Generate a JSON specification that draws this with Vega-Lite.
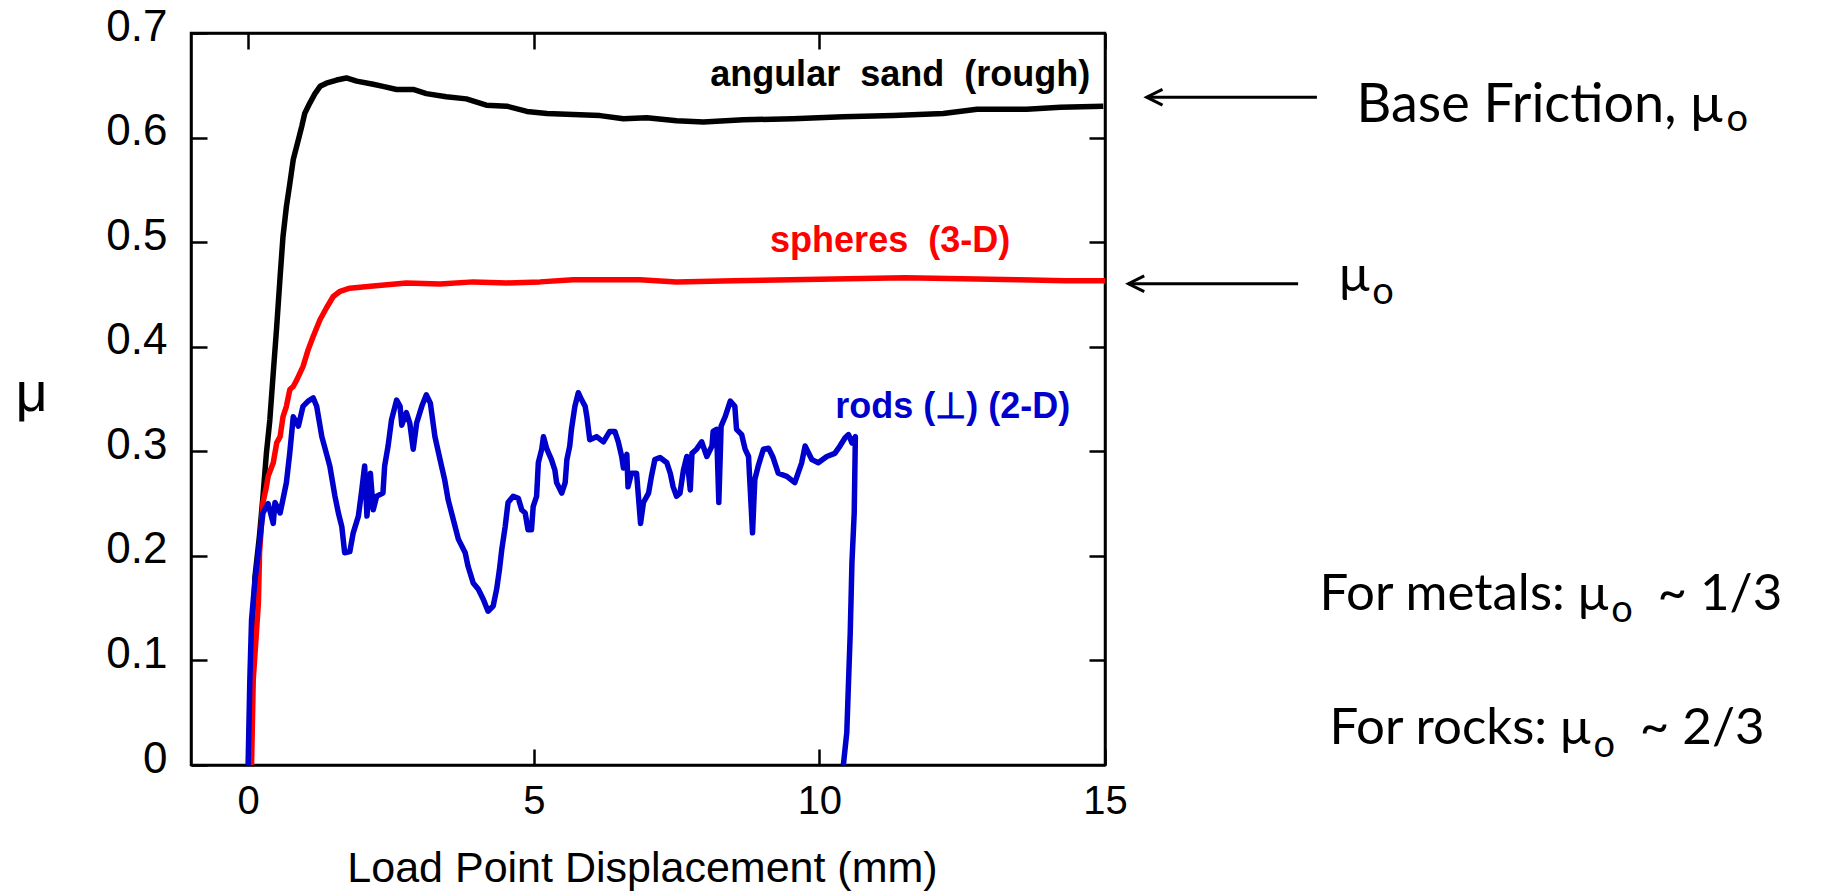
{
  "$schema": "https://vega.github.io/schema/vega-lite/v6.json",
  "width": 914,
  "height": 732,
  "autosize": {"type": "none"},
  "padding": {"left": 191, "top": 33, "right": 716, "bottom": 129},
  "background": "white",
  "config": {
    "view": {"stroke": "black", "strokeWidth": 2.5},
    "font": "Liberation Sans"
  },
  "datasets": {
    "curves": [
      {"series":"sand","i":0,"x":0.04,"mu":0},
      {"series":"sand","i":1,"x":0.08,"mu":0.12},
      {"series":"sand","i":2,"x":0.12,"mu":0.18},
      {"series":"sand","i":3,"x":0.2,"mu":0.22},
      {"series":"sand","i":4,"x":0.26,"mu":0.257},
      {"series":"sand","i":5,"x":0.32,"mu":0.298},
      {"series":"sand","i":6,"x":0.38,"mu":0.33},
      {"series":"sand","i":7,"x":0.44,"mu":0.375},
      {"series":"sand","i":8,"x":0.5,"mu":0.419},
      {"series":"sand","i":9,"x":0.56,"mu":0.467},
      {"series":"sand","i":10,"x":0.61,"mu":0.505},
      {"series":"sand","i":11,"x":0.67,"mu":0.534},
      {"series":"sand","i":12,"x":0.73,"mu":0.556},
      {"series":"sand","i":13,"x":0.79,"mu":0.579},
      {"series":"sand","i":14,"x":0.88,"mu":0.598},
      {"series":"sand","i":15,"x":0.94,"mu":0.611},
      {"series":"sand","i":16,"x":0.99,"mu":0.623},
      {"series":"sand","i":17,"x":1.08,"mu":0.633},
      {"series":"sand","i":18,"x":1.17,"mu":0.642},
      {"series":"sand","i":19,"x":1.26,"mu":0.649},
      {"series":"sand","i":20,"x":1.37,"mu":0.652},
      {"series":"sand","i":21,"x":1.55,"mu":0.655},
      {"series":"sand","i":22,"x":1.72,"mu":0.657},
      {"series":"sand","i":23,"x":1.9,"mu":0.654},
      {"series":"sand","i":24,"x":2.19,"mu":0.651},
      {"series":"sand","i":25,"x":2.36,"mu":0.649},
      {"series":"sand","i":26,"x":2.6,"mu":0.646},
      {"series":"sand","i":27,"x":2.89,"mu":0.646},
      {"series":"sand","i":28,"x":3.12,"mu":0.642},
      {"series":"sand","i":29,"x":3.47,"mu":0.639},
      {"series":"sand","i":30,"x":3.82,"mu":0.637},
      {"series":"sand","i":31,"x":4.17,"mu":0.631},
      {"series":"sand","i":32,"x":4.53,"mu":0.63},
      {"series":"sand","i":33,"x":4.88,"mu":0.625},
      {"series":"sand","i":34,"x":5.23,"mu":0.623},
      {"series":"sand","i":35,"x":5.69,"mu":0.622},
      {"series":"sand","i":36,"x":6.16,"mu":0.621},
      {"series":"sand","i":37,"x":6.57,"mu":0.618},
      {"series":"sand","i":38,"x":6.98,"mu":0.619},
      {"series":"sand","i":39,"x":7.5,"mu":0.616},
      {"series":"sand","i":40,"x":7.97,"mu":0.615},
      {"series":"sand","i":41,"x":8.67,"mu":0.617},
      {"series":"sand","i":42,"x":9.54,"mu":0.618},
      {"series":"sand","i":43,"x":10.42,"mu":0.62},
      {"series":"sand","i":44,"x":11.3,"mu":0.621},
      {"series":"sand","i":45,"x":12.17,"mu":0.623},
      {"series":"sand","i":46,"x":12.76,"mu":0.627},
      {"series":"sand","i":47,"x":13.63,"mu":0.627},
      {"series":"sand","i":48,"x":14.22,"mu":0.629},
      {"series":"sand","i":49,"x":14.97,"mu":0.63},
      {"series":"spheres","i":0,"x":0.06,"mu":0},
      {"series":"spheres","i":1,"x":0.09,"mu":0.082},
      {"series":"spheres","i":2,"x":0.18,"mu":0.155},
      {"series":"spheres","i":3,"x":0.2,"mu":0.203},
      {"series":"spheres","i":4,"x":0.26,"mu":0.251},
      {"series":"spheres","i":5,"x":0.32,"mu":0.266},
      {"series":"spheres","i":6,"x":0.35,"mu":0.276},
      {"series":"spheres","i":7,"x":0.44,"mu":0.289},
      {"series":"spheres","i":8,"x":0.5,"mu":0.308},
      {"series":"spheres","i":9,"x":0.56,"mu":0.314},
      {"series":"spheres","i":10,"x":0.61,"mu":0.333},
      {"series":"spheres","i":11,"x":0.67,"mu":0.343},
      {"series":"spheres","i":12,"x":0.73,"mu":0.359},
      {"series":"spheres","i":13,"x":0.79,"mu":0.362},
      {"series":"spheres","i":14,"x":0.85,"mu":0.368},
      {"series":"spheres","i":15,"x":0.96,"mu":0.381},
      {"series":"spheres","i":16,"x":1.05,"mu":0.397},
      {"series":"spheres","i":17,"x":1.14,"mu":0.41},
      {"series":"spheres","i":18,"x":1.26,"mu":0.426},
      {"series":"spheres","i":19,"x":1.37,"mu":0.437},
      {"series":"spheres","i":20,"x":1.49,"mu":0.448},
      {"series":"spheres","i":21,"x":1.61,"mu":0.453},
      {"series":"spheres","i":22,"x":1.78,"mu":0.456},
      {"series":"spheres","i":23,"x":2.19,"mu":0.458},
      {"series":"spheres","i":24,"x":2.77,"mu":0.461},
      {"series":"spheres","i":25,"x":3.36,"mu":0.46},
      {"series":"spheres","i":26,"x":3.94,"mu":0.462},
      {"series":"spheres","i":27,"x":4.53,"mu":0.461},
      {"series":"spheres","i":28,"x":5.11,"mu":0.462},
      {"series":"spheres","i":29,"x":5.69,"mu":0.464},
      {"series":"spheres","i":30,"x":6.28,"mu":0.464},
      {"series":"spheres","i":31,"x":6.86,"mu":0.464},
      {"series":"spheres","i":32,"x":7.5,"mu":0.462},
      {"series":"spheres","i":33,"x":8.5,"mu":0.463},
      {"series":"spheres","i":34,"x":9.5,"mu":0.464},
      {"series":"spheres","i":35,"x":10.5,"mu":0.465},
      {"series":"spheres","i":36,"x":11.5,"mu":0.466},
      {"series":"spheres","i":37,"x":12.5,"mu":0.465},
      {"series":"spheres","i":38,"x":13.5,"mu":0.464},
      {"series":"spheres","i":39,"x":14.3,"mu":0.463},
      {"series":"spheres","i":40,"x":15,"mu":0.463},
      {"series":"rods","i":0,"x":0,"mu":0},
      {"series":"rods","i":1,"x":0.03,"mu":0.082},
      {"series":"rods","i":2,"x":0.06,"mu":0.139},
      {"series":"rods","i":3,"x":0.12,"mu":0.177},
      {"series":"rods","i":4,"x":0.18,"mu":0.203},
      {"series":"rods","i":5,"x":0.23,"mu":0.228},
      {"series":"rods","i":6,"x":0.26,"mu":0.241},
      {"series":"rods","i":7,"x":0.35,"mu":0.25},
      {"series":"rods","i":8,"x":0.44,"mu":0.231},
      {"series":"rods","i":9,"x":0.47,"mu":0.251},
      {"series":"rods","i":10,"x":0.56,"mu":0.241},
      {"series":"rods","i":11,"x":0.61,"mu":0.254},
      {"series":"rods","i":12,"x":0.67,"mu":0.27},
      {"series":"rods","i":13,"x":0.73,"mu":0.299},
      {"series":"rods","i":14,"x":0.79,"mu":0.333},
      {"series":"rods","i":15,"x":0.88,"mu":0.324},
      {"series":"rods","i":16,"x":0.96,"mu":0.343},
      {"series":"rods","i":17,"x":1.05,"mu":0.348},
      {"series":"rods","i":18,"x":1.14,"mu":0.351},
      {"series":"rods","i":19,"x":1.2,"mu":0.343},
      {"series":"rods","i":20,"x":1.29,"mu":0.314},
      {"series":"rods","i":21,"x":1.37,"mu":0.298},
      {"series":"rods","i":22,"x":1.43,"mu":0.286},
      {"series":"rods","i":23,"x":1.52,"mu":0.257},
      {"series":"rods","i":24,"x":1.58,"mu":0.241},
      {"series":"rods","i":25,"x":1.64,"mu":0.228},
      {"series":"rods","i":26,"x":1.69,"mu":0.203},
      {"series":"rods","i":27,"x":1.78,"mu":0.204},
      {"series":"rods","i":28,"x":1.84,"mu":0.222},
      {"series":"rods","i":29,"x":1.93,"mu":0.238},
      {"series":"rods","i":30,"x":1.99,"mu":0.263},
      {"series":"rods","i":31,"x":2.04,"mu":0.286},
      {"series":"rods","i":32,"x":2.08,"mu":0.238},
      {"series":"rods","i":33,"x":2.14,"mu":0.279},
      {"series":"rods","i":34,"x":2.19,"mu":0.244},
      {"series":"rods","i":35,"x":2.25,"mu":0.257},
      {"series":"rods","i":36,"x":2.36,"mu":0.26},
      {"series":"rods","i":37,"x":2.39,"mu":0.286},
      {"series":"rods","i":38,"x":2.45,"mu":0.305},
      {"series":"rods","i":39,"x":2.51,"mu":0.33},
      {"series":"rods","i":40,"x":2.6,"mu":0.349},
      {"series":"rods","i":41,"x":2.66,"mu":0.343},
      {"series":"rods","i":42,"x":2.69,"mu":0.325},
      {"series":"rods","i":43,"x":2.77,"mu":0.337},
      {"series":"rods","i":44,"x":2.83,"mu":0.327},
      {"series":"rods","i":45,"x":2.89,"mu":0.302},
      {"series":"rods","i":46,"x":2.95,"mu":0.327},
      {"series":"rods","i":47,"x":3.04,"mu":0.343},
      {"series":"rods","i":48,"x":3.12,"mu":0.354},
      {"series":"rods","i":49,"x":3.19,"mu":0.346},
      {"series":"rods","i":50,"x":3.27,"mu":0.314},
      {"series":"rods","i":51,"x":3.36,"mu":0.292},
      {"series":"rods","i":52,"x":3.44,"mu":0.273},
      {"series":"rods","i":53,"x":3.5,"mu":0.254},
      {"series":"rods","i":54,"x":3.59,"mu":0.235},
      {"series":"rods","i":55,"x":3.68,"mu":0.216},
      {"series":"rods","i":56,"x":3.8,"mu":0.203},
      {"series":"rods","i":57,"x":3.85,"mu":0.19},
      {"series":"rods","i":58,"x":3.94,"mu":0.174},
      {"series":"rods","i":59,"x":4.03,"mu":0.168},
      {"series":"rods","i":60,"x":4.12,"mu":0.158},
      {"series":"rods","i":61,"x":4.2,"mu":0.147},
      {"series":"rods","i":62,"x":4.29,"mu":0.152},
      {"series":"rods","i":63,"x":4.35,"mu":0.168},
      {"series":"rods","i":64,"x":4.4,"mu":0.187},
      {"series":"rods","i":65,"x":4.44,"mu":0.206},
      {"series":"rods","i":66,"x":4.5,"mu":0.228},
      {"series":"rods","i":67,"x":4.55,"mu":0.251},
      {"series":"rods","i":68,"x":4.64,"mu":0.257},
      {"series":"rods","i":69,"x":4.73,"mu":0.255},
      {"series":"rods","i":70,"x":4.79,"mu":0.244},
      {"series":"rods","i":71,"x":4.85,"mu":0.241},
      {"series":"rods","i":72,"x":4.9,"mu":0.225},
      {"series":"rods","i":73,"x":4.96,"mu":0.225},
      {"series":"rods","i":74,"x":4.99,"mu":0.247},
      {"series":"rods","i":75,"x":5.05,"mu":0.257},
      {"series":"rods","i":76,"x":5.08,"mu":0.289},
      {"series":"rods","i":77,"x":5.14,"mu":0.302},
      {"series":"rods","i":78,"x":5.17,"mu":0.314},
      {"series":"rods","i":79,"x":5.23,"mu":0.302},
      {"series":"rods","i":80,"x":5.31,"mu":0.292},
      {"series":"rods","i":81,"x":5.37,"mu":0.282},
      {"series":"rods","i":82,"x":5.4,"mu":0.27},
      {"series":"rods","i":83,"x":5.49,"mu":0.26},
      {"series":"rods","i":84,"x":5.55,"mu":0.27},
      {"series":"rods","i":85,"x":5.58,"mu":0.292},
      {"series":"rods","i":86,"x":5.63,"mu":0.305},
      {"series":"rods","i":87,"x":5.66,"mu":0.321},
      {"series":"rods","i":88,"x":5.72,"mu":0.343},
      {"series":"rods","i":89,"x":5.78,"mu":0.356},
      {"series":"rods","i":90,"x":5.84,"mu":0.349},
      {"series":"rods","i":91,"x":5.9,"mu":0.343},
      {"series":"rods","i":92,"x":5.93,"mu":0.333},
      {"series":"rods","i":93,"x":5.98,"mu":0.311},
      {"series":"rods","i":94,"x":6.1,"mu":0.314},
      {"series":"rods","i":95,"x":6.22,"mu":0.309},
      {"series":"rods","i":96,"x":6.33,"mu":0.319},
      {"series":"rods","i":97,"x":6.42,"mu":0.319},
      {"series":"rods","i":98,"x":6.48,"mu":0.309},
      {"series":"rods","i":99,"x":6.54,"mu":0.295},
      {"series":"rods","i":100,"x":6.57,"mu":0.284},
      {"series":"rods","i":101,"x":6.63,"mu":0.297},
      {"series":"rods","i":102,"x":6.65,"mu":0.266},
      {"series":"rods","i":103,"x":6.71,"mu":0.279},
      {"series":"rods","i":104,"x":6.8,"mu":0.279},
      {"series":"rods","i":105,"x":6.87,"mu":0.231},
      {"series":"rods","i":106,"x":6.92,"mu":0.251},
      {"series":"rods","i":107,"x":7.01,"mu":0.26},
      {"series":"rods","i":108,"x":7.06,"mu":0.276},
      {"series":"rods","i":109,"x":7.12,"mu":0.292},
      {"series":"rods","i":110,"x":7.21,"mu":0.294},
      {"series":"rods","i":111,"x":7.33,"mu":0.289},
      {"series":"rods","i":112,"x":7.39,"mu":0.279},
      {"series":"rods","i":113,"x":7.44,"mu":0.266},
      {"series":"rods","i":114,"x":7.5,"mu":0.257},
      {"series":"rods","i":115,"x":7.56,"mu":0.26},
      {"series":"rods","i":116,"x":7.62,"mu":0.282},
      {"series":"rods","i":117,"x":7.68,"mu":0.295},
      {"series":"rods","i":118,"x":7.74,"mu":0.263},
      {"series":"rods","i":119,"x":7.77,"mu":0.298},
      {"series":"rods","i":120,"x":7.85,"mu":0.302},
      {"series":"rods","i":121,"x":7.94,"mu":0.309},
      {"series":"rods","i":122,"x":8.03,"mu":0.295},
      {"series":"rods","i":123,"x":8.12,"mu":0.305},
      {"series":"rods","i":124,"x":8.14,"mu":0.319},
      {"series":"rods","i":125,"x":8.2,"mu":0.321},
      {"series":"rods","i":126,"x":8.24,"mu":0.251},
      {"series":"rods","i":127,"x":8.28,"mu":0.324},
      {"series":"rods","i":128,"x":8.35,"mu":0.333},
      {"series":"rods","i":129,"x":8.44,"mu":0.348},
      {"series":"rods","i":130,"x":8.52,"mu":0.343},
      {"series":"rods","i":131,"x":8.55,"mu":0.321},
      {"series":"rods","i":132,"x":8.64,"mu":0.316},
      {"series":"rods","i":133,"x":8.7,"mu":0.302},
      {"series":"rods","i":134,"x":8.76,"mu":0.295},
      {"series":"rods","i":135,"x":8.83,"mu":0.222},
      {"series":"rods","i":136,"x":8.87,"mu":0.273},
      {"series":"rods","i":137,"x":8.93,"mu":0.286},
      {"series":"rods","i":138,"x":9.02,"mu":0.302},
      {"series":"rods","i":139,"x":9.11,"mu":0.303},
      {"series":"rods","i":140,"x":9.19,"mu":0.294},
      {"series":"rods","i":141,"x":9.28,"mu":0.279},
      {"series":"rods","i":142,"x":9.43,"mu":0.276},
      {"series":"rods","i":143,"x":9.57,"mu":0.27},
      {"series":"rods","i":144,"x":9.69,"mu":0.289},
      {"series":"rods","i":145,"x":9.75,"mu":0.305},
      {"series":"rods","i":146,"x":9.87,"mu":0.292},
      {"series":"rods","i":147,"x":9.98,"mu":0.289},
      {"series":"rods","i":148,"x":10.13,"mu":0.295},
      {"series":"rods","i":149,"x":10.27,"mu":0.298},
      {"series":"rods","i":150,"x":10.36,"mu":0.305},
      {"series":"rods","i":151,"x":10.45,"mu":0.313},
      {"series":"rods","i":152,"x":10.51,"mu":0.316},
      {"series":"rods","i":153,"x":10.57,"mu":0.308},
      {"series":"rods","i":154,"x":10.63,"mu":0.314},
      {"series":"rods","i":155,"x":10.61,"mu":0.241},
      {"series":"rods","i":156,"x":10.57,"mu":0.193},
      {"series":"rods","i":157,"x":10.54,"mu":0.126},
      {"series":"rods","i":158,"x":10.51,"mu":0.079},
      {"series":"rods","i":159,"x":10.48,"mu":0.031},
      {"series":"rods","i":160,"x":10.42,"mu":0}
    ],
    "labels": [
      {"series":"sand","text":"angular\u00a0 sand\u00a0 (rough)","x":14.74,"mu":0.649},
      {"series":"spheres","text":"spheres\u00a0 (3-D)","x":13.34,"mu":0.491},
      {"series":"rods","text":"rods (\u22a5) (2-D)","x":14.39,"mu":0.332}
    ],
    "arrows": [
      {"x":15.73,"x2":18.71,"mu":0.6386},
      {"x":15.41,"x2":18.38,"mu":0.4602}
    ],
    "headline": [
      {"text":"Base Friction, \u03bc","x":25.81,"mu":0.615}
    ],
    "notes": [
      {"text":"\u03bc","x":19.63,"mu":0.453},
      {"text":"For metals: \u03bc","x":23.81,"mu":0.148},
      {"text":"For rocks: \u03bc","x":23.5,"mu":0.02}
    ],
    "tails": [
      {"text":"~ 1/3","x":24.67,"mu":0.148},
      {"text":"~ 2/3","x":24.36,"mu":0.02}
    ],
    "subs": [
      {"text":"o","x":25.88,"mu":0.606},
      {"text":"o","x":19.68,"mu":0.441},
      {"text":"o","x":23.86,"mu":0.137},
      {"text":"o","x":23.55,"mu":0.008}
    ]
  },
  "layer": [
    {
      "data": {"name": "curves"},
      "mark": {"type": "line", "strokeWidth": 5.5, "strokeJoin": "round"},
      "encoding": {
        "x": {"field": "x", "type": "quantitative",
          "scale": {"domain": [-1, 15], "nice": false, "zero": false},
          "axis": {"orient": "bottom", "values": [0, 5, 10, 15], "format": "d",
            "labelFlush": false, "labelOverlap": false, "labelBound": false,
            "tickSize": -16, "tickWidth": 2.5, "tickColor": "black",
            "domainColor": "black", "domainWidth": 2.5, "grid": false,
            "labelFontSize": 40, "labelColor": "black", "labelPadding": 32, "labelFont": "Liberation Sans",
            "title": "Load Point Displacement (mm)", "titleFont": "Liberation Sans",
            "titleFontSize": 43, "titleFontWeight": "normal", "titleColor": "black",
            "titleX": 451, "titleY": 82, "titleBaseline": "top", "titleAlign": "center"}},
        "y": {"field": "mu", "type": "quantitative",
          "scale": {"domain": [0, 0.7], "nice": false, "zero": false},
          "axis": {"orient": "left", "values": [0, 0.1, 0.2, 0.3, 0.4, 0.5, 0.6, 0.7], "format": ".1~f",
            "labelFlush": false, "labelOverlap": false, "labelBound": false,
            "tickSize": -16, "tickWidth": 2.5, "tickColor": "black",
            "domainColor": "black", "domainWidth": 2.5, "grid": false,
            "labelFontSize": 44, "labelColor": "black", "labelPadding": 40, "labelFont": "Liberation Sans",
            "labelBaseline": "alphabetic", "labelOffset": 7,
            "title": "\u03bc", "titleFont": "Liberation Sans", "titleAngle": 0,
            "titleFontSize": 56, "titleFontWeight": "normal", "titleColor": "black",
            "titleX": -160, "titleY": 360, "titleAlign": "center", "titleBaseline": "middle"}},
        "color": {"field": "series", "type": "nominal",
          "scale": {"domain": ["sand", "spheres", "rods"], "range": ["#000000", "#ff0000", "#0000cc"]},
          "legend": null},
        "order": {"field": "i", "type": "quantitative"}
      }
    },
    {
      "data": {"name": "labels"},
      "mark": {"type": "text", "fontWeight": "bold", "fontSize": 36, "align": "right", "baseline": "alphabetic", "font": "Liberation Sans"},
      "encoding": {
        "x": {"field": "x", "type": "quantitative",
          "scale": {"domain": [-1, 15], "nice": false, "zero": false},
          "axis": {"orient": "top", "values": [0, 5, 10, 15], "labels": false, "title": null,
            "tickSize": -16, "tickWidth": 2.5, "tickColor": "black",
            "domainColor": "black", "domainWidth": 2.5, "grid": false}},
        "y": {"field": "mu", "type": "quantitative",
          "scale": {"domain": [0, 0.7], "nice": false, "zero": false},
          "axis": {"orient": "right", "values": [0.1, 0.2, 0.3, 0.4, 0.5, 0.6], "labels": false, "title": null,
            "tickSize": -16, "tickWidth": 2.5, "tickColor": "black",
            "domainColor": "black", "domainWidth": 2.5, "grid": false}},
        "text": {"field": "text"},
        "color": {"field": "series", "type": "nominal",
          "scale": {"domain": ["sand", "spheres", "rods"], "range": ["#000000", "#ff0000", "#0000cc"]},
          "legend": null}
      }
    },
    {
      "data": {"name": "arrows"},
      "mark": {"type": "rule", "color": "black", "strokeWidth": 3},
      "encoding": {
        "x": {"field": "x", "type": "quantitative", "scale": {"domain": [-1, 15], "nice": false, "zero": false}, "axis": null},
        "x2": {"field": "x2"},
        "y": {"field": "mu", "type": "quantitative", "scale": {"domain": [0, 0.7], "nice": false, "zero": false}, "axis": null}
      }
    },
    {
      "data": {"name": "arrows"},
      "mark": {"type": "point", "shape": "M1,-0.5L0,0L1,0.5", "filled": false, "stroke": "black", "strokeWidth": 3, "opacity": 1, "size": 1000},
      "encoding": {
        "x": {"field": "x", "type": "quantitative", "scale": {"domain": [-1, 15], "nice": false, "zero": false}, "axis": null},
        "y": {"field": "mu", "type": "quantitative", "scale": {"domain": [0, 0.7], "nice": false, "zero": false}, "axis": null}
      }
    },
    {
      "data": {"name": "headline"},
      "mark": {"type": "text", "font": "Lato", "fontSize": 54, "align": "right", "baseline": "alphabetic", "color": "black"},
      "encoding": {
        "x": {"field": "x", "type": "quantitative", "scale": {"domain": [-1, 15], "nice": false, "zero": false}, "axis": null},
        "y": {"field": "mu", "type": "quantitative", "scale": {"domain": [0, 0.7], "nice": false, "zero": false}, "axis": null},
        "text": {"field": "text"}
      }
    },
    {
      "data": {"name": "notes"},
      "mark": {"type": "text", "font": "Lato", "fontSize": 51, "align": "right", "baseline": "alphabetic", "color": "black"},
      "encoding": {
        "x": {"field": "x", "type": "quantitative", "scale": {"domain": [-1, 15], "nice": false, "zero": false}, "axis": null},
        "y": {"field": "mu", "type": "quantitative", "scale": {"domain": [0, 0.7], "nice": false, "zero": false}, "axis": null},
        "text": {"field": "text"}
      }
    },
    {
      "data": {"name": "tails"},
      "mark": {"type": "text", "font": "Lato", "fontSize": 51, "align": "left", "baseline": "alphabetic", "color": "black"},
      "encoding": {
        "x": {"field": "x", "type": "quantitative", "scale": {"domain": [-1, 15], "nice": false, "zero": false}, "axis": null},
        "y": {"field": "mu", "type": "quantitative", "scale": {"domain": [0, 0.7], "nice": false, "zero": false}, "axis": null},
        "text": {"field": "text"}
      }
    },
    {
      "data": {"name": "subs"},
      "mark": {"type": "text", "font": "Lato", "fontSize": 38, "align": "left", "baseline": "alphabetic", "color": "black"},
      "encoding": {
        "x": {"field": "x", "type": "quantitative", "scale": {"domain": [-1, 15], "nice": false, "zero": false}, "axis": null},
        "y": {"field": "mu", "type": "quantitative", "scale": {"domain": [0, 0.7], "nice": false, "zero": false}, "axis": null},
        "text": {"field": "text"}
      }
    }
  ],
  "resolve": {"axis": {"x": "independent", "y": "independent"}}
}
